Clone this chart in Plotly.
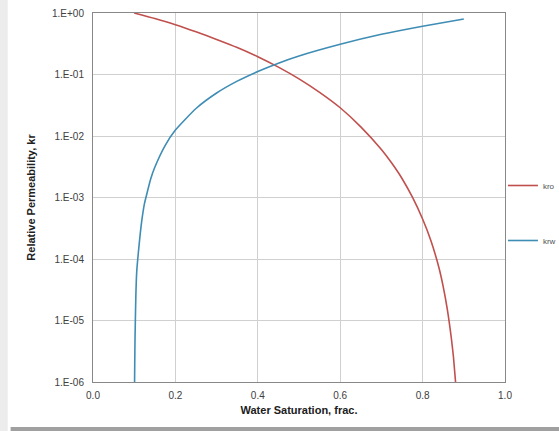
import plotly.graph_objects as go

# Relative permeability curves
sw_kro = [0.100, 0.150, 0.200, 0.250, 0.300, 0.350, 0.400, 0.450, 0.500, 0.550,
          0.600, 0.650, 0.700, 0.725, 0.750, 0.775, 0.800, 0.820, 0.840, 0.850,
          0.860, 0.870, 0.875, 0.880]
kro = [1.0, 0.813, 0.646, 0.495, 0.372, 0.275, 0.195, 0.132, 0.0851, 0.0513,
       0.0288, 0.0141, 0.00603, 0.00363, 0.00204, 1.02e-3, 4.47e-4, 2.0e-4, 7.08e-5, 3.55e-5,
       1.51e-5, 5.0e-6, 2.5e-6, 1.0e-6]

sw_krw = [0.1009, 0.1013, 0.1020, 0.1028, 0.1040, 0.1060, 0.1100, 0.1180, 0.1250,
          0.1300, 0.1400, 0.1500, 0.1750, 0.200, 0.250, 0.300, 0.350, 0.400, 0.450,
          0.500, 0.600, 0.700, 0.800, 0.900]
krw = [1.0e-6, 2.0e-6, 5.0e-6, 1.0e-5, 2.5e-5, 6.0e-5, 1.25e-4, 4.0e-4, 8.0e-4,
       1.1e-3, 2.0e-3, 3.1e-3, 7.0e-3, 0.0125, 0.028, 0.050, 0.078, 0.112, 0.153,
       0.200, 0.31, 0.45, 0.61, 0.80]

y_tickvals = [1e0, 1e-1, 1e-2, 1e-3, 1e-4, 1e-5, 1e-6]
y_ticktext = ["1.E+00", "1.E-01", "1.E-02", "1.E-03", "1.E-04", "1.E-05", "1.E-06"]
x_tickvals = [0.0, 0.2, 0.4, 0.6, 0.8, 1.0]
x_ticktext = ["0.0", "0.2", "0.4", "0.6", "0.8", "1.0"]

fig = go.Figure()
fig.add_trace(go.Scatter(x=sw_kro, y=kro, mode="lines", name="kro", legendgroup="a",
                         line=dict(color="#c0504d", width=1.6, shape="spline", smoothing=0.5)))
fig.add_trace(go.Scatter(x=sw_krw, y=krw, mode="lines", name="krw", legendgroup="b",
                         line=dict(color="#3f8db5", width=1.6, shape="spline", smoothing=0.5)))

font = "Liberation Sans, Arial, sans-serif"
fig.update_layout(
    width=559, height=431,
    margin=dict(l=93, r=54, t=13, b=49, autoexpand=False),
    paper_bgcolor="white", plot_bgcolor="white",
    font=dict(family=font, size=10, color="#404040"),
    showlegend=True,
    legend=dict(x=0.995, y=0.458, xanchor="left", yanchor="middle",
                font=dict(size=8, color="#505050"), tracegroupgap=36,
                bgcolor="rgba(0,0,0,0)", itemwidth=30),
    xaxis=dict(range=[0, 1], tickvals=x_tickvals, ticktext=x_ticktext,
               showgrid=True, gridcolor="#d0d0d0", gridwidth=1,
               showline=True, linecolor="#888888", linewidth=1, mirror=True,
               ticks="outside", ticklen=4, tickcolor="rgba(0,0,0,0)", zeroline=False,
               title=dict(text="<b>Water Saturation, frac.</b>", standoff=6,
                          font=dict(size=11, color="#202020"))),
    yaxis=dict(type="log", range=[-6, 0], tickvals=y_tickvals, ticktext=y_ticktext,
               showgrid=True, gridcolor="#d0d0d0", gridwidth=1,
               showline=True, linecolor="#888888", linewidth=1, mirror=True,
               ticks="outside", ticklen=6, tickcolor="rgba(0,0,0,0)", zeroline=False,
               title=dict(text="<b>Relative Permeability, kr</b>", standoff=14,
                          font=dict(size=11, color="#202020"))),
    shapes=[
        dict(type="rect", xref="paper", yref="paper", x0=-0.2258, x1=-0.207,
             y0=-0.135, y1=1.04, fillcolor="#ececec", line=dict(width=0), layer="below"),
        dict(type="rect", xref="paper", yref="paper", x0=-0.20, x1=1.14,
             y0=-0.122, y1=-0.14, fillcolor="#a0a0a0", line=dict(width=0), layer="below"),
    ],
)

fig.write_html("out.html")
